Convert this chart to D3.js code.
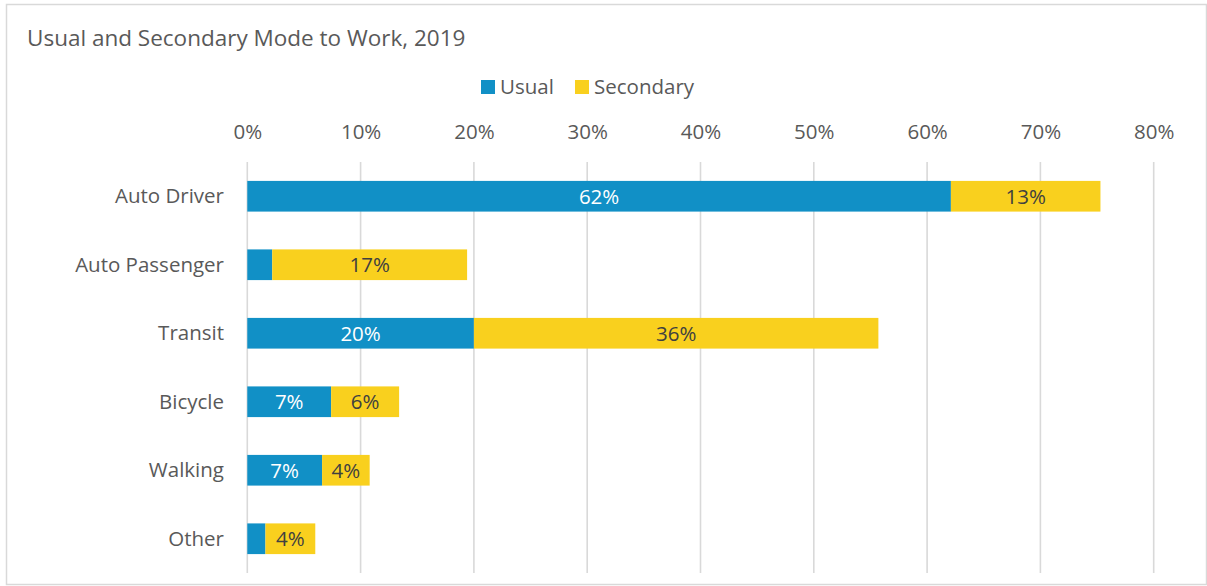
<!DOCTYPE html>
<html>
<head>
<meta charset="utf-8">
<script src="https://cdn.jsdelivr.net/npm/d3@7"></script>
<style>
  html, body { margin: 0; padding: 0; background: #fff; }
  svg { display: block; font-family: "Open Sans", sans-serif; }
</style>
</head>
<body>
<svg id="chart" width="1207" height="586"></svg>
<script>
// Share of commuters by mode, 2019 (percent)
const modes = ["Auto Driver", "Auto Passenger", "Transit", "Bicycle", "Walking", "Other"];
const usual = [62.1, 2.2, 20.0, 7.4, 6.6, 1.6];
const secondary = [13.2, 17.2, 35.7, 6.0, 4.2, 4.4];
const seriesNames = ["Usual", "Secondary"];
const tickValues = [0, 10, 20, 30, 40, 50, 60, 70, 80];

const colors = { Usual: "#1190c6", Secondary: "#f9d01e" };
const textGray = "#595959";
const font = "'Open Sans', sans-serif";
const labelSize = "20.5px";

const svg = d3.select("#chart");

// outer frame
svg.append("rect")
  .attr("x", 6.5).attr("y", 4.5)
  .attr("width", 1200).attr("height", 580)
  .attr("fill", "#fff").attr("stroke", "#d9d9d9").attr("stroke-width", 1.5);

// title
svg.append("text")
  .attr("x", 27).attr("y", 46)
  .attr("fill", textGray)
  .style("font-size", "22.5px")
  .text("Usual and Secondary Mode to Work, 2019");

// scales
const x = d3.scaleLinear().domain([0, 80]).range([247.3, 1153.7]);
const y = d3.scaleBand().domain(modes).range([162, 573]).paddingInner(0.552).paddingOuter(0.276);

// gridlines
svg.append("g").selectAll("line")
  .data(tickValues).join("line")
  .attr("x1", d => x(d)).attr("x2", d => x(d))
  .attr("y1", 162).attr("y2", 573)
  .attr("stroke", "#d9d9d9").attr("stroke-width", 1.6);

// top axis labels
const xAxis = d3.axisTop(x).tickValues(tickValues).tickFormat(d => d + "%").tickSize(0).tickPadding(0);
const gx = svg.append("g").attr("transform", "translate(0,138.5)").call(xAxis);
gx.select(".domain").remove();
gx.selectAll("text")
  .attr("fill", textGray)
  .attr("dy", 0)
  .style("font-size", labelSize)
  .style("font-family", font);

// category labels
const yAxis = d3.axisLeft(y).tickSize(0).tickPadding(0);
const gy = svg.append("g").attr("transform", "translate(224,0)").call(yAxis);
gy.select(".domain").remove();
gy.selectAll("text")
  .attr("fill", textGray)
  .attr("dy", "0.33em")
  .style("font-size", labelSize)
  .style("font-family", font);

// stacked bars
const rows = modes.map((m, i) => ({ mode: m, Usual: usual[i], Secondary: secondary[i] }));
const stack = d3.stack().keys(seriesNames)(rows);

const layers = svg.append("g").selectAll("g")
  .data(stack).join("g")
  .attr("fill", d => colors[d.key]);

layers.selectAll("rect")
  .data(d => d.map(s => ({ key: d.key, s })))
  .join("rect")
  .attr("x", d => x(d.s[0]))
  .attr("y", d => y(d.s.data.mode))
  .attr("width", d => x(d.s[1]) - x(d.s[0]))
  .attr("height", y.bandwidth());

// value labels (shown where the segment is wide enough)
layers.selectAll("text")
  .data(d => d.map(s => ({ key: d.key, s })).filter(d => d.s[1] - d.s[0] >= 3))
  .join("text")
  .attr("x", d => (x(d.s[0]) + x(d.s[1])) / 2)
  .attr("y", d => y(d.s.data.mode) + y.bandwidth() / 2)
  .attr("dy", "0.36em")
  .attr("text-anchor", "middle")
  .attr("fill", d => d.key === "Usual" ? "#ffffff" : "#404040")
  .style("font-size", labelSize)
  .text(d => d3.format(".0f")(d.s[1] - d.s[0]) + "%");

// legend
const legend = svg.append("g").attr("transform", "translate(481,80)");
const legendX = [0, 94];
const items = legend.selectAll("g").data(seriesNames).join("g")
  .attr("transform", (d, i) => `translate(${legendX[i]},0)`);
items.append("rect")
  .attr("width", 14).attr("height", 14)
  .attr("fill", d => colors[d]);
items.append("text")
  .attr("x", 19).attr("y", 7).attr("dy", "0.36em")
  .attr("fill", textGray)
  .style("font-size", labelSize)
  .text(d => d);
</script>
</body>
</html>
